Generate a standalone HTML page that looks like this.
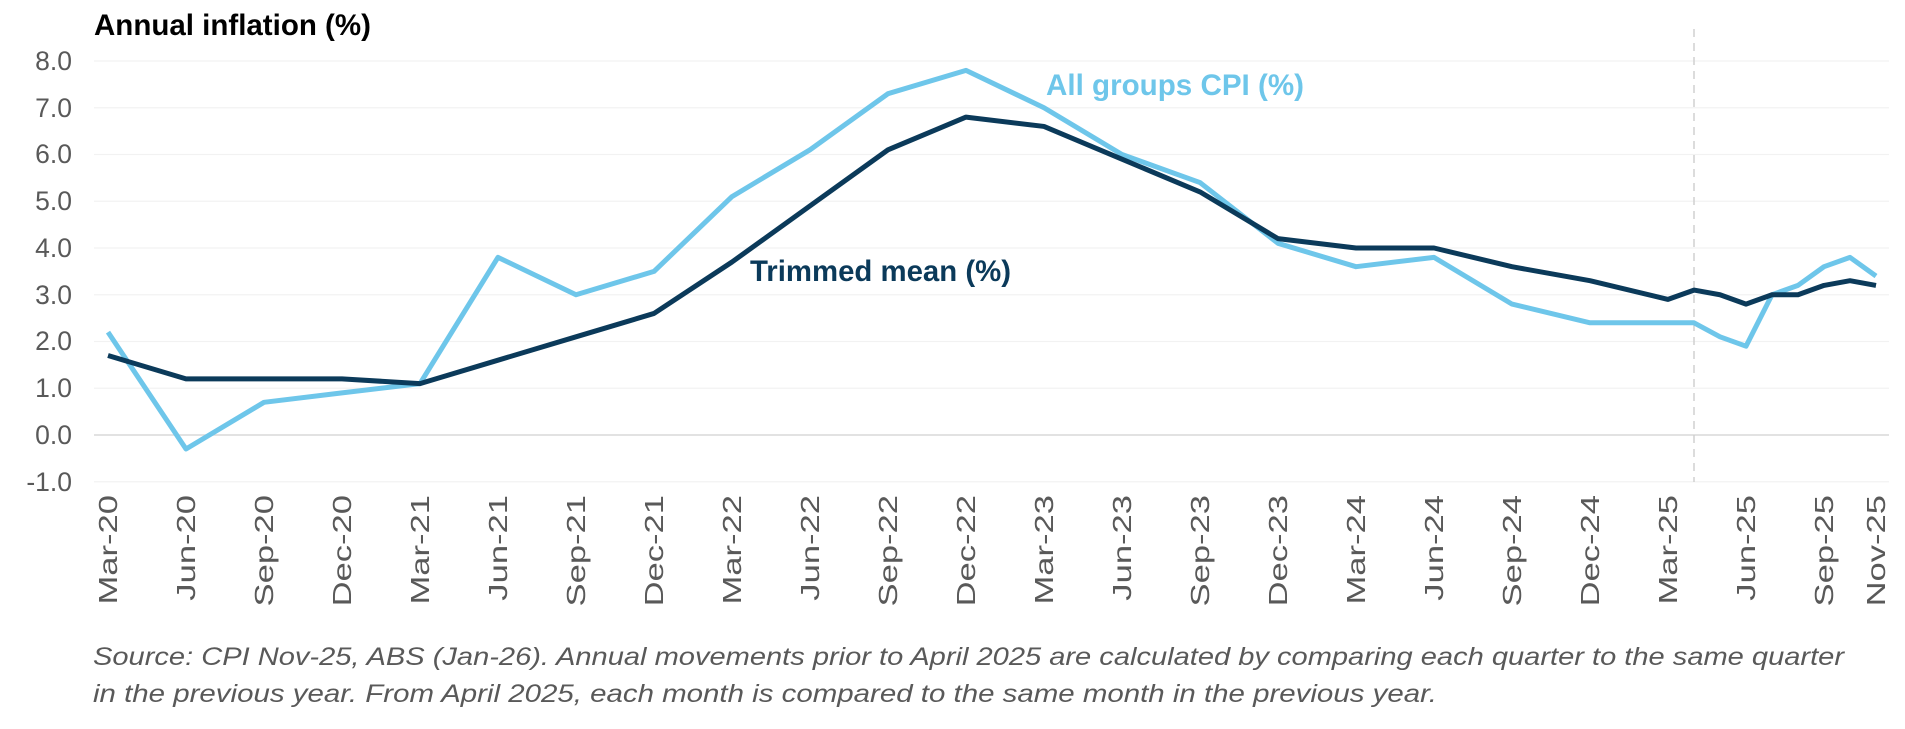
<!DOCTYPE html>
<html><head><meta charset="utf-8"><style>
html,body{margin:0;padding:0;background:#fff;}
svg{display:block;}
text{font-family:"Liberation Sans",Arial,sans-serif;}
</style></head><body>
<svg width="1905" height="729" viewBox="0 0 1905 729" xmlns="http://www.w3.org/2000/svg">
<text x="94" y="35" font-size="29.5" font-weight="bold" fill="#000">Annual inflation (%)</text>
<g stroke="#f2f2f2" stroke-width="1.2">
<line x1="94" x2="1889" y1="61" y2="61"/>
<line x1="94" x2="1889" y1="107.75" y2="107.75"/>
<line x1="94" x2="1889" y1="154.5" y2="154.5"/>
<line x1="94" x2="1889" y1="201.25" y2="201.25"/>
<line x1="94" x2="1889" y1="248" y2="248"/>
<line x1="94" x2="1889" y1="294.75" y2="294.75"/>
<line x1="94" x2="1889" y1="341.5" y2="341.5"/>
<line x1="94" x2="1889" y1="388.25" y2="388.25"/>
<line x1="94" x2="1889" y1="481.75" y2="481.75"/>
</g>
<line x1="94" x2="1889" y1="435" y2="435" stroke="#d9d9d9" stroke-width="1.5"/>
<line x1="1694" x2="1694" y1="29" y2="482" stroke="#d0d0d0" stroke-width="1.5" stroke-dasharray="8,6"/>
<g font-size="26.5" fill="#595959" text-anchor="end">
<text x="72" y="70">8.0</text>
<text x="72" y="117">7.0</text>
<text x="72" y="163">6.0</text>
<text x="72" y="210">5.0</text>
<text x="72" y="257">4.0</text>
<text x="72" y="304">3.0</text>
<text x="72" y="350">2.0</text>
<text x="72" y="397">1.0</text>
<text x="72" y="444">0.0</text>
<text x="72" y="491">-1.0</text>
</g>
<polyline fill="none" stroke="#6EC6EA" stroke-width="5" stroke-linejoin="round" points="108,332.15 186,449 264,402.3 342,392.9 420,383.6 498,257.35 576,294.75 654,271.4 732,196.6 810,149.8 888,93.7 966,70.35 1044,107.75 1122,154.5 1200,182.55 1278,243.3 1356,266.7 1434,257.35 1512,304.1 1590,322.8 1668,322.8 1694,322.8 1720,336.8 1746,346.2 1772,294.75 1798,285.4 1824,266.7 1850,257.35 1876,276.05"/>
<polyline fill="none" stroke="#0B3A5A" stroke-width="5" stroke-linejoin="round" points="108,355.5 186,378.9 264,378.9 342,378.9 420,383.6 498,360.2 576,336.8 654,313.45 732,262 810,205.9 888,149.8 966,117.1 1044,126.45 1122,159.2 1200,191.9 1278,238.65 1356,248 1434,248 1512,266.7 1590,280.7 1668,299.4 1694,290.1 1720,294.75 1746,304.1 1772,294.75 1798,294.75 1824,285.4 1850,280.7 1876,285.4"/>
<text x="1046" y="95" font-size="30" font-weight="bold" fill="#6EC6EA" textLength="258" lengthAdjust="spacingAndGlyphs">All groups CPI (%)</text>
<text x="750" y="281" font-size="30" font-weight="bold" fill="#0B3A5A" textLength="261" lengthAdjust="spacingAndGlyphs">Trimmed mean (%)</text>
<g font-size="26" fill="#595959" text-anchor="end">
<text transform="translate(117,495) rotate(-90) scale(1.33,1)">Mar-20</text>
<text transform="translate(195,495) rotate(-90) scale(1.33,1)">Jun-20</text>
<text transform="translate(273,495) rotate(-90) scale(1.33,1)">Sep-20</text>
<text transform="translate(351,495) rotate(-90) scale(1.33,1)">Dec-20</text>
<text transform="translate(429,495) rotate(-90) scale(1.33,1)">Mar-21</text>
<text transform="translate(507,495) rotate(-90) scale(1.33,1)">Jun-21</text>
<text transform="translate(585,495) rotate(-90) scale(1.33,1)">Sep-21</text>
<text transform="translate(663,495) rotate(-90) scale(1.33,1)">Dec-21</text>
<text transform="translate(741,495) rotate(-90) scale(1.33,1)">Mar-22</text>
<text transform="translate(819,495) rotate(-90) scale(1.33,1)">Jun-22</text>
<text transform="translate(897,495) rotate(-90) scale(1.33,1)">Sep-22</text>
<text transform="translate(975,495) rotate(-90) scale(1.33,1)">Dec-22</text>
<text transform="translate(1053,495) rotate(-90) scale(1.33,1)">Mar-23</text>
<text transform="translate(1131,495) rotate(-90) scale(1.33,1)">Jun-23</text>
<text transform="translate(1209,495) rotate(-90) scale(1.33,1)">Sep-23</text>
<text transform="translate(1287,495) rotate(-90) scale(1.33,1)">Dec-23</text>
<text transform="translate(1365,495) rotate(-90) scale(1.33,1)">Mar-24</text>
<text transform="translate(1443,495) rotate(-90) scale(1.33,1)">Jun-24</text>
<text transform="translate(1521,495) rotate(-90) scale(1.33,1)">Sep-24</text>
<text transform="translate(1599,495) rotate(-90) scale(1.33,1)">Dec-24</text>
<text transform="translate(1677,495) rotate(-90) scale(1.33,1)">Mar-25</text>
<text transform="translate(1755,495) rotate(-90) scale(1.33,1)">Jun-25</text>
<text transform="translate(1833,495) rotate(-90) scale(1.33,1)">Sep-25</text>
<text transform="translate(1885,495) rotate(-90) scale(1.33,1)">Nov-25</text>
</g>
<g font-size="25" font-style="italic" fill="#595959">
<text x="93" y="665" textLength="1751" lengthAdjust="spacingAndGlyphs">Source: CPI Nov-25, ABS (Jan-26). Annual movements prior to April 2025 are calculated by comparing each quarter to the same quarter</text>
<text x="93" y="702" textLength="1344" lengthAdjust="spacingAndGlyphs">in the previous year. From April 2025, each month is compared to the same month in the previous year.</text>
</g>
</svg>
</body></html>
